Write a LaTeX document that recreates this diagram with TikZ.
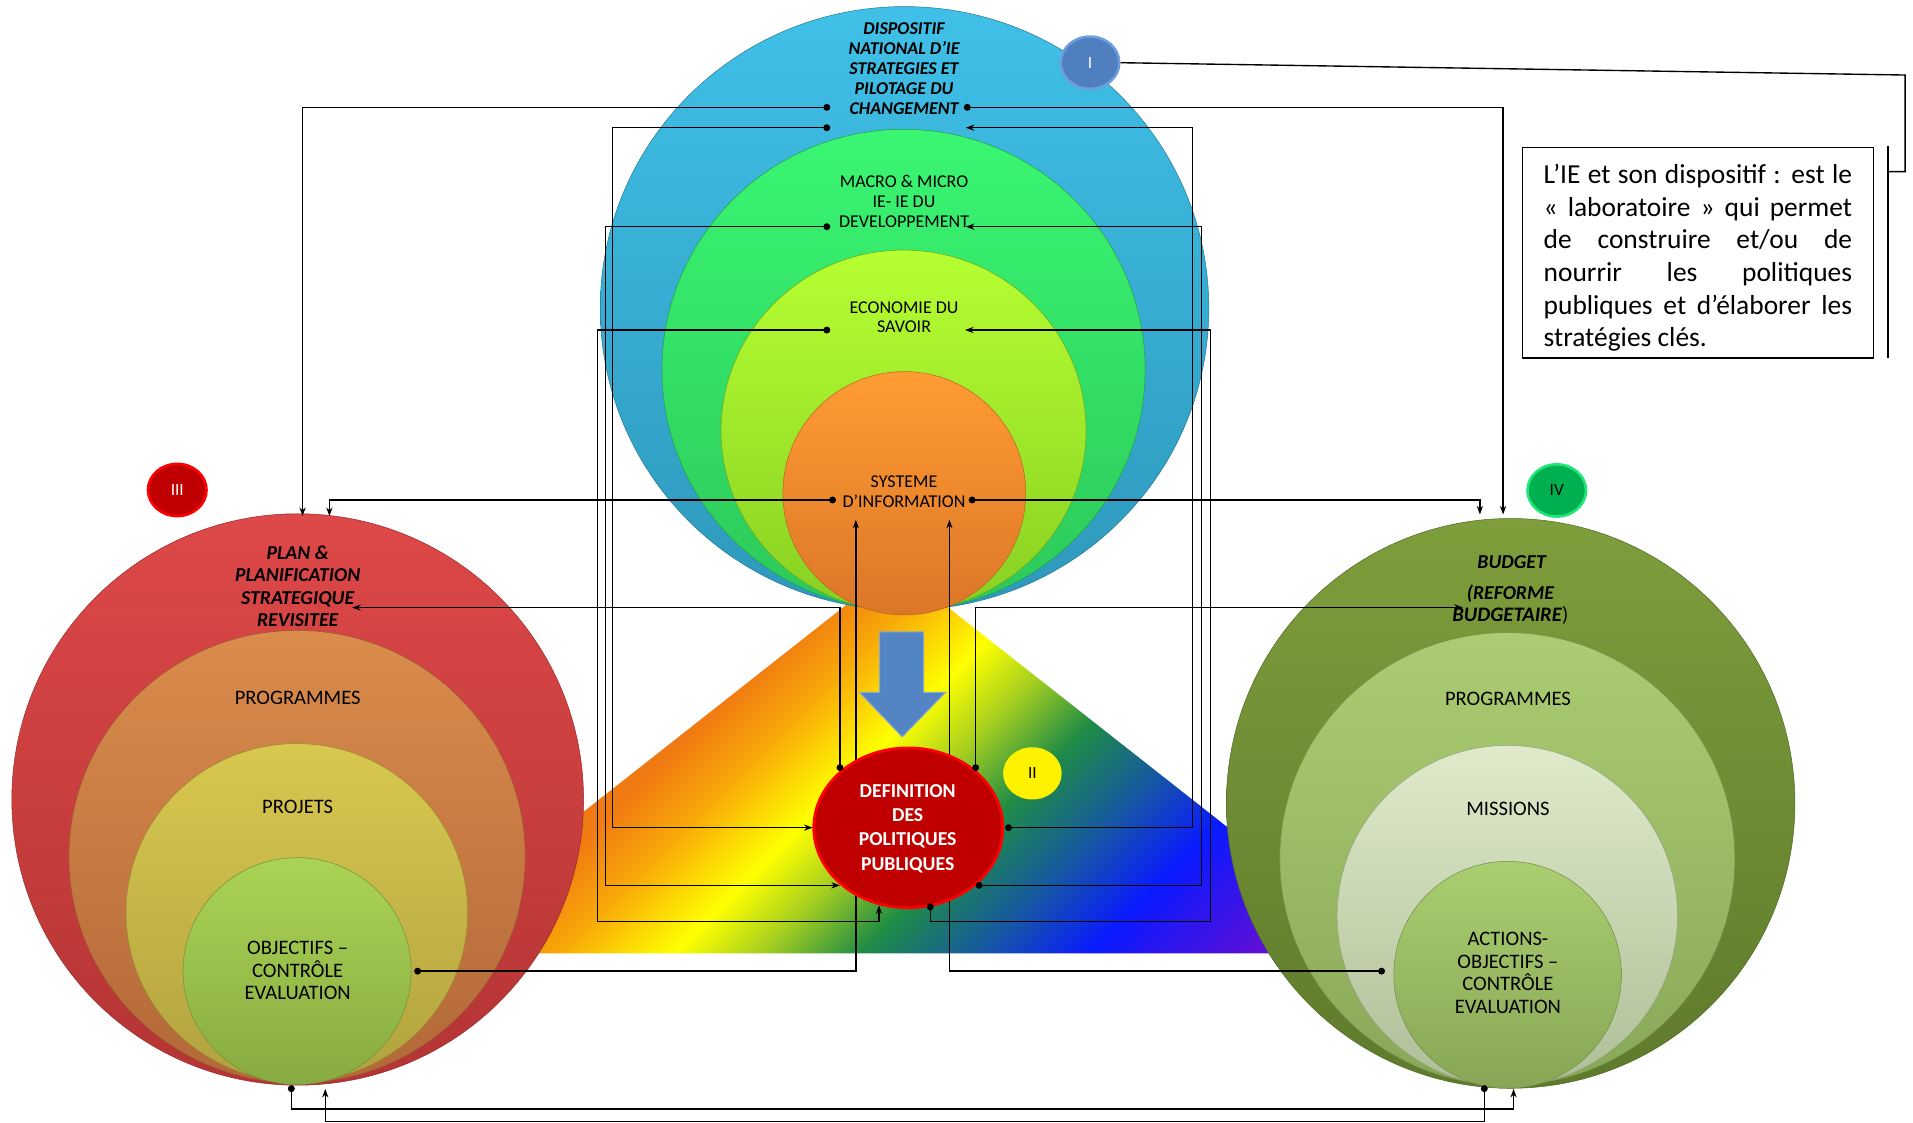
\documentclass[tikz,border=0pt]{standalone}
\usepackage{fontspec}
\setmainfont{Carlito}
\usetikzlibrary{arrows.meta,shapes.geometric}
% rainbow triangle colours
\definecolor{trA}{HTML}{E85A10}
\definecolor{trB}{HTML}{F07A12}
\definecolor{trC}{HTML}{F8A808}
\definecolor{trD}{HTML}{FFFF00}
\definecolor{trE}{HTML}{A8D020}
\definecolor{trF}{HTML}{1F8C45}
\definecolor{trG}{HTML}{165AA0}
\definecolor{trH}{HTML}{0A1AFF}
\definecolor{trI}{HTML}{5A10D8}
\definecolor{trJ}{HTML}{6A10D0}
\pgfdeclarehorizontalshading{rainbow}{100bp}{color(0bp)=(trA); color(42bp)=(trB); color(45bp)=(trC); color(49bp)=(trD); color(52bp)=(trE); color(55.5bp)=(trF); color(59.5bp)=(trG); color(63.5bp)=(trH); color(69bp)=(trI); color(100bp)=(trJ)}
% circle colours
\definecolor{blueT}{HTML}{40C0E8}\definecolor{blueB}{HTML}{2E98BC}
\definecolor{grnT}{HTML}{3AF672}\definecolor{grnB}{HTML}{2CC85A}
\definecolor{ygT}{HTML}{B6FF32}\definecolor{ygB}{HTML}{88D022}
\definecolor{orT}{HTML}{FF9C33}\definecolor{orB}{HTML}{DC7628}
\definecolor{redT}{HTML}{DE4848}\definecolor{redB}{HTML}{B43434}
\definecolor{lorT}{HTML}{DA8C4C}\definecolor{lorB}{HTML}{B26838}
\definecolor{lyeT}{HTML}{D8C850}\definecolor{lyeB}{HTML}{B2A23E}
\definecolor{lgrT}{HTML}{AAD454}\definecolor{lgrB}{HTML}{88AA42}
\definecolor{olT}{HTML}{7E9E3C}\definecolor{olB}{HTML}{5E7A2C}
\definecolor{rprT}{HTML}{ACCC72}\definecolor{rprB}{HTML}{88A858}
\definecolor{misT}{HTML}{DFEACA}\definecolor{misB}{HTML}{AEBF98}
\definecolor{actT}{HTML}{AACE70}\definecolor{actB}{HTML}{88A656}
\definecolor{defRed}{HTML}{C00000}
\definecolor{arrBlue}{HTML}{5384C4}
\definecolor{badgeBlue}{HTML}{4F7FBF}\definecolor{badgeBlueRim}{HTML}{6C9DE0}
\definecolor{badgeGreen}{HTML}{00B050}\definecolor{badgeGreenRim}{HTML}{20E878}
\tikzset{
  conn/.style={draw=black, line width=0.8pt},
  dotarr/.style={conn, {Circle[length=4pt]}-{Stealth[length=5pt,width=3.6pt]}},
  lbl/.style={align=center, inner sep=0pt, text=black},
  txtS/.style={lbl, font=\fontsize{10.5}{11.5}\selectfont},
  txtSBI/.style={lbl, font=\fontsize{10.5}{11.7}\selectfont\bfseries\itshape},
  txtM/.style={lbl, font=\fontsize{12}{13.1}\selectfont},
  txtMBI/.style={lbl, font=\fontsize{11.5}{13}\selectfont\bfseries\itshape},
  txtDef/.style={lbl, text=white, font=\fontsize{11.5}{14.2}\selectfont\bfseries},
  badge/.style={ellipse, inner sep=0pt, minimum width=1.2cm, minimum height=1.07cm, font=\fontsize{10}{12}\selectfont},
  rim/.style={line width=0.3pt}
}
\begin{document}
\begin{tikzpicture}[x=0.025cm,y=-0.025cm]
\useasboundingbox (0,0) rectangle (1568,920);

% ---------- rainbow triangle ----------
\coordinate (tA) at (734,464);
\coordinate (tL) at (331,781.4);
\coordinate (tR) at (1137.5,781.4);
\begin{scope}
  \clip (tA) -- (tL) -- (tR) -- cycle;
  \shade[shading=rainbow, shading angle=-45] (314,202) rectangle (1154,1042);
\end{scope}

% ---------- top circle stack ----------
\shade[top color=blueT, bottom color=blueB, draw=blueB!80!black, rim] (741.4,252.7) ellipse [x radius=249.4, y radius=247.3];
\shade[top color=grnT, bottom color=grnB, draw=grnB!80!black, rim] (740.6,303) ellipse [x radius=198, y radius=197];
\shade[top color=ygT, bottom color=ygB, draw=ygB!80!black, rim] (740.6,353) ellipse [x radius=149.6, y radius=148];
\shade[top color=orT, bottom color=orB, draw=orB!85!black, rim] (741.2,404.3) ellipse [x radius=99.5, y radius=99.7];

% ---------- left circle stack ----------
\shade[top color=redT, bottom color=redB, draw=redB!85!black, rim] (244,655.3) ellipse [x radius=234.3, y radius=234.2];
\shade[top color=lorT, bottom color=lorB, draw=lorB!85!black, rim] (243.5,702.2) ellipse [x radius=187, y radius=185.5];
\shade[top color=lyeT, bottom color=lyeB, draw=lyeB!85!black, rim] (243.3,748) ellipse [x radius=140, y radius=138.5];
\shade[top color=lgrT, bottom color=lgrB, draw=lgrB!85!black, rim] (243.5,796) ellipse [x radius=93.5, y radius=93];

% ---------- right circle stack ----------
\shade[top color=olT, bottom color=olB, draw=olB!85!black, rim] (1238.2,658.5) ellipse [x radius=233, y radius=233.5];
\shade[top color=rprT, bottom color=rprB, draw=rprB!85!black, rim] (1235.5,704) ellipse [x radius=186.5, y radius=185.5];
\shade[top color=misT, bottom color=misB, draw=misB!85!black, rim] (1235.5,750.5) ellipse [x radius=139.5, y radius=139.5];
\shade[top color=actT, bottom color=actB, draw=actB!85!black, rim] (1235.7,799) ellipse [x radius=93.3, y radius=93];

% ---------- blue down arrow ----------
\fill[arrBlue, draw=arrBlue!70!white, line width=0.6pt]
  (721,518) -- (757,518) -- (757,567.5) -- (775,567.5) -- (739.5,604) -- (704.5,567.5) -- (721,567.5) -- cycle;

% ---------- coordinates of connector ends ----------
\coordinate (tl1) at (680.5,88);   \coordinate (tr1) at (790,88);
\coordinate (tl2) at (680.5,104.7); \coordinate (tr2) at (791.6,104.7);
\coordinate (tl3) at (680.5,185.8); \coordinate (tr3) at (791.6,185.8);
\coordinate (tl4) at (680.5,270.5); \coordinate (tr4) at (791,270.5);
\coordinate (ts1) at (685.2,409.8); \coordinate (ts2) at (794,409.8);
\coordinate (sysA) at (701.5,426);  \coordinate (sysB) at (778.2,426);
\coordinate (planA) at (248,423);   \coordinate (planB) at (270,423);
\coordinate (budA) at (1232,421.7); \coordinate (budB) at (1213,421.7);
\coordinate (planT) at (288.6,498); \coordinate (budT) at (1199,497.8);
\coordinate (defTL) at (688.5,632); \coordinate (defTR) at (799.7,632);
\coordinate (defL) at (666.1,678.4); \coordinate (defR) at (823.8,678.4);
\coordinate (defLL) at (688.5,725.7); \coordinate (defRL) at (799.7,725.7);
\coordinate (defB1) at (720.5,742); \coordinate (defB2) at (762.5,740.5);
\coordinate (objR) at (339.5,796);  \coordinate (actL) at (1135.2,796);
\coordinate (objB) at (238.8,889.5); \coordinate (objB2) at (266.6,892.5);
\coordinate (actB) at (1240.6,892.5); \coordinate (actB2) at (1216.6,889.5);

% connectors passing behind DEFINITION
\draw[dotarr] (objR) -| (sysA);
\draw[dotarr] (actL) -| (sysB);

% ---------- DEFINITION circle ----------
\fill[defRed, draw=red, line width=1.6pt] (744.5,678.5) ellipse [x radius=77.5, y radius=65.5];

% ---------- other connectors ----------
\draw[dotarr] (tl1) -| (planA);
\draw[dotarr] (tr1) -| (budA);
\draw[dotarr] (tl2) -| (502.2,678.4) -- (defL);
\draw[dotarr] (defR) -| (977.3,104.7) -- (tr2);
\draw[dotarr] (tl3) -| (496.1,725.7) -- (defLL);
\draw[dotarr] (defRL) -| (984.7,185.8) -- (tr3);
\draw[dotarr] (tl4) -| (489.5,755.5) -| (defB1);
\draw[dotarr] (defB2) |- (992.3,755.5) |- (tr4);
\draw[dotarr] (ts1) -| (planB);
\draw[dotarr] (ts2) -| (budB);
\draw[dotarr] (defTL) |- (planT);
\draw[dotarr] (defTR) |- (budT);
\draw[dotarr] (objB) |- (1240.6,909) -- (actB);
\draw[dotarr] (actB2) |- (266.6,919.3) -- (objB2);

% ---------- texts ----------
\node[txtSBI] (tDisp) at (741,56) {DISPOSITIF\\NATIONAL D’IE\\STRATEGIES ET\\PILOTAGE DU\\CHANGEMENT};
\node[txtS] (tMacro) at (741,165) {MACRO \& MICRO\\IE- IE DU\\DEVELOPPEMENT};
\node[txtS] (tEco) at (741,260) {ECONOMIE DU\\SAVOIR};
\node[txtS] (tSys) at (741,403) {SYSTEME\\D’INFORMATION};

\node[txtMBI] (tPlan) at (244,480.5) {PLAN \&\\PLANIFICATION\\STRATEGIQUE\\REVISITEE};
\node[txtM] (tProgL) at (244,572) {PROGRAMMES};
\node[txtM] (tProj) at (244,661) {PROJETS};
\node[txtM] (tObj) at (244,795.5) {OBJECTIFS –\\CONTRÔLE\\EVALUATION};

\node[txtMBI] (tBud1) at (1239,461) {BUDGET};
\node[txtMBI] (tBud2) at (1238,486.5) {(REFORME};
\node[txtM] (tBud3) at (1238,504.5) {\textbf{\textit{BUDGETAIRE}})};
\node[txtM] (tProgR) at (1236,573) {PROGRAMMES};
\node[txtM] (tMis) at (1236,663) {MISSIONS};
\node[txtM] (tAct) at (1236,797.5) {ACTIONS-\\OBJECTIFS –\\CONTRÔLE\\EVALUATION};

\node[txtDef] (tDef) at (744,679) {DEFINITION\\DES\\POLITIQUES\\PUBLIQUES};

% ---------- badges ----------
\node[badge, fill=badgeBlue, draw=badgeBlueRim, line width=1.5pt, text=white] (bI) at (893.4,51.4) {I};
\node[badge, fill=defRed, draw=red, line width=1.5pt, text=white] (bIII) at (145.3,401.6) {III};
\node[badge, fill=badgeGreen, draw=badgeGreenRim, line width=1.5pt, text=black] (bIV) at (1276,402) {IV};
\node[badge, fill=yellow, text=black] (bII) at (846.2,633.9) {II};

% ---------- callout ----------
\node[draw, line width=0.9pt, fill=white, inner sep=0pt, minimum width=7.1875cm, minimum height=4.3125cm] (callbox) at (1391.75,207.25) {};
\node[inner sep=0pt, anchor=north west, text width=6.32cm, align=justify, font=\fontsize{16}{19}\selectfont] (calltext) at (1265,134.5)
 {L’IE et son dispositif~: est le\linebreak «~laboratoire~» qui permet\linebreak de construire et/ou de\linebreak nourrir les politiques\linebreak publiques et d’élaborer les\linebreak stratégies clés.};
\coordinate (brkTop) at (1547.6,120);
\coordinate (brkBot) at (1547.6,293.5);
\coordinate (brkIn) at (1547.6,140.7);
\draw[conn] (brkTop) -- (brkBot);
\draw[conn] (bI.east) -- (1561.5,61.5) |- (brkIn);
\end{tikzpicture}
\end{document}
